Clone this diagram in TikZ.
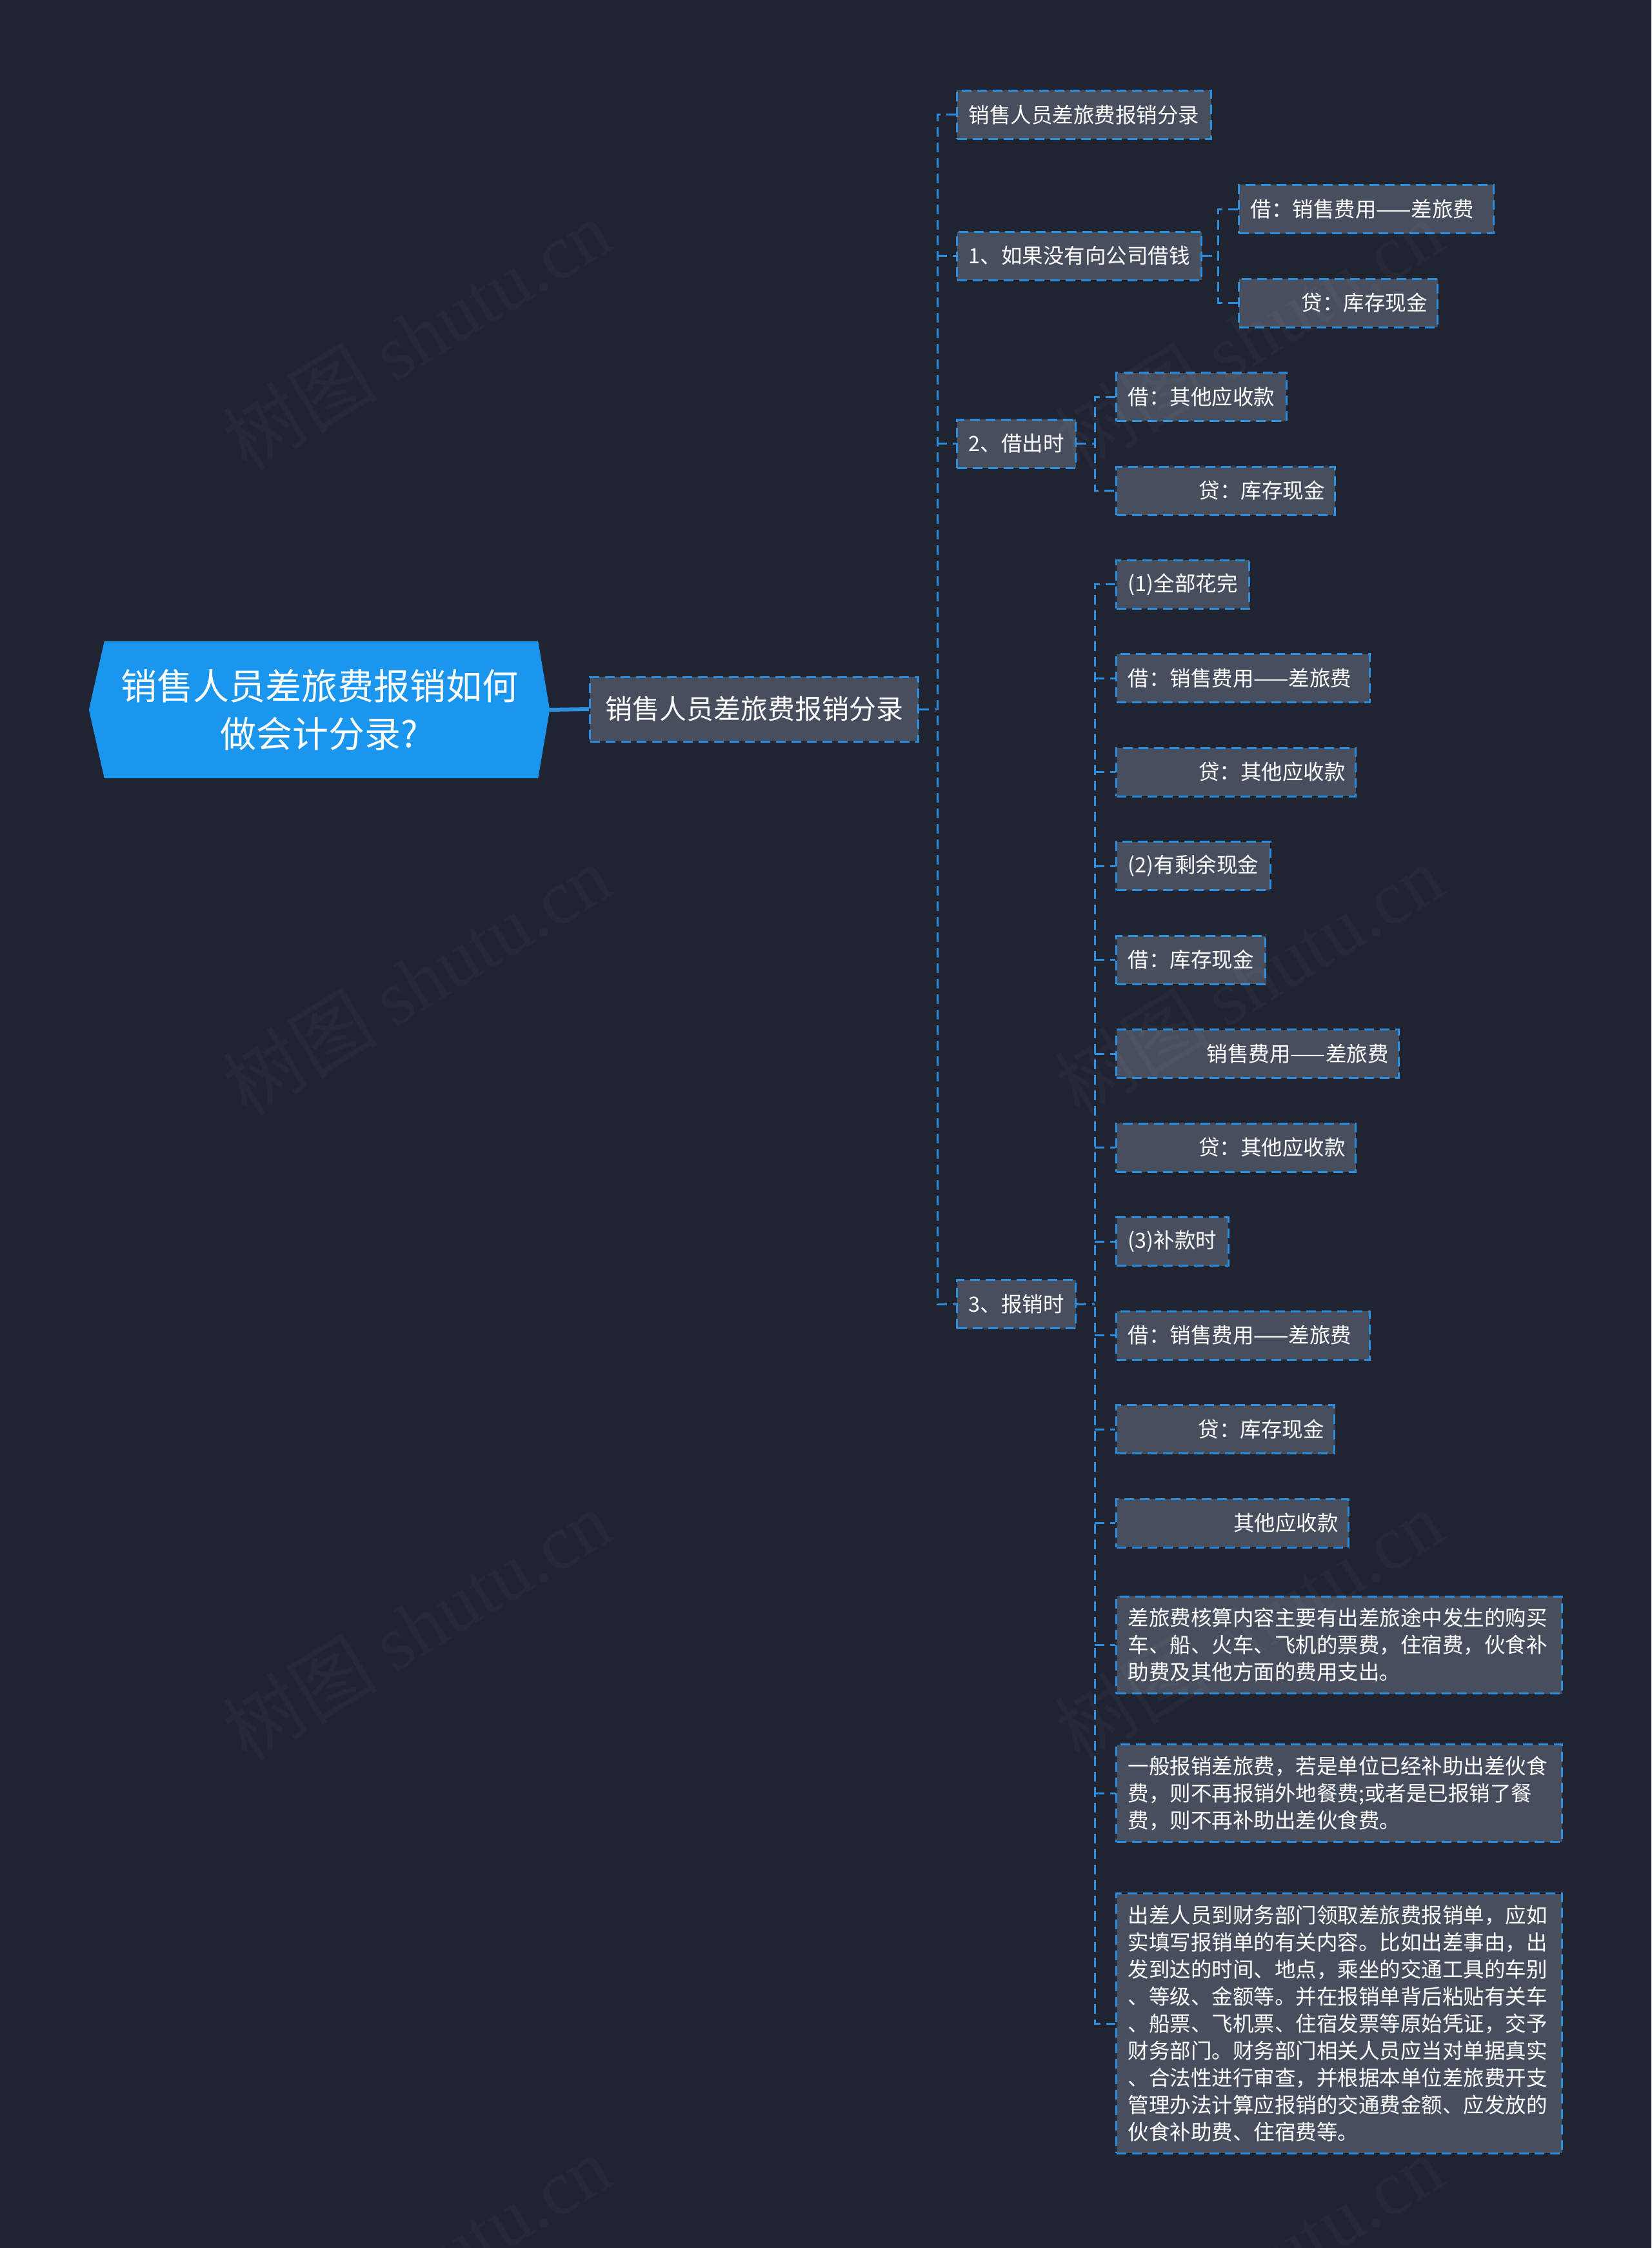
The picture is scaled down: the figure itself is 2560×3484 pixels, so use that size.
\documentclass[tikz,border=0pt]{standalone}
\usepackage{fontspec}
\setmainfont{Noto Sans CJK SC}
\newfontfamily\wmfont{Liberation Serif}
\usetikzlibrary{backgrounds,calc}
\definecolor{NightBg}{HTML}{202430}
\definecolor{SlateBox}{HTML}{474E5E}
\definecolor{MapBlue}{HTML}{2A8FE0}
\definecolor{RootBlue}{HTML}{1A96EF}

\tikzset{
  box/.style={draw=MapBlue,fill=SlateBox,line width=3pt,dash pattern=on 15pt off 9pt,
    text=white,inner xsep=18pt,inner ysep=0pt,minimum height=75pt,anchor=west,
    font=\fontsize{32.5}{42}\selectfont},
  padbox/.style={box,text width=#1,align=right,inner xsep=16pt},
  widebox/.style={box,text width=#1,align=left},
  parabox/.style={box,text width=655pt,align=left,inner ysep=18pt},
  link/.style={MapBlue,line width=3pt,dash pattern=on 15pt off 9pt},
  wmark/.style={text=white,opacity=0.032,font=\fontsize{120}{120}\selectfont,rotate=31.4}
}

\begin{document}
\begin{tikzpicture}[x=1pt,y=-1pt]
  \useasboundingbox (0,0) rectangle (2560,3484);
  % root and first branch
  \node[text=white,align=center,minimum width=714pt,minimum height=212pt,
    font=\fontsize{56}{74}\selectfont] (root) at (495,1100) {销售人员差旅费报销如何\\做会计分录?};
  \node[box,inner xsep=23.5pt,minimum height=100pt,font=\fontsize{42}{50}\selectfont]
    (l2) at (913,1099) {销售人员差旅费报销分录};
  \begin{pgfonlayer}{background}
    \fill[NightBg] (0,0) rectangle (2560,3484);
    \fill[RootBlue] (root.west) -- ([xshift=24pt]root.north west) -- ([xshift=-18pt]root.north east)
      -- (root.east) -- ([xshift=-18pt]root.south east) -- ([xshift=24pt]root.south west) -- cycle;
  \end{pgfonlayer}
  \draw[MapBlue,line width=6pt] (root.east) -- (l2.west);

  % level 3
  \node[box] (a1) at (1482,178) {销售人员差旅费报销分录};
  \node[box] (a2) at (1482,396.5) {1、如果没有向公司借钱};
  \node[box] (a3) at (1482,687.5) {2、借出时};
  \node[box] (a4) at (1482,2021) {3、报销时};

  % 1、如果没有向公司借钱
  \node[widebox=359pt] (b1) at (1919,324) {借：销售费用——差旅费};
  \node[padbox=276pt] (b2) at (1919,469.5) {贷：库存现金};

  % 2、借出时
  \node[box] (c1) at (1729,615) {借：其他应收款};
  \node[padbox=307pt] (c2) at (1729,760.5) {贷：库存现金};

  % 3、报销时
  \node[box] (m1) at (1729,905.5) {(1)全部花完};
  \node[widebox=357pt] (m2) at (1729,1051) {借：销售费用——差旅费};
  \node[padbox=339pt] (m3) at (1729,1196.5) {贷：其他应收款};
  \node[box] (m4) at (1729,1342) {(2)有剩余现金};
  \node[box] (m5) at (1729,1487.5) {借：库存现金};
  \node[padbox=406pt] (m6) at (1729,1633) {销售费用——差旅费};
  \node[padbox=339pt] (m7) at (1729,1778.5) {贷：其他应收款};
  \node[box] (m8) at (1729,1924) {(3)补款时};
  \node[widebox=357pt] (m9) at (1729,2069.5) {借：销售费用——差旅费};
  \node[padbox=306pt] (m10) at (1729,2215) {贷：库存现金};
  \node[padbox=328pt] (m11) at (1729,2360.5) {其他应收款};
  \node[parabox] (p1) at (1729,2549.5) {差旅费核算内容主要有出差旅途中发生的购买\\车、船、火车、飞机的票费，住宿费，伙食补\\助费及其他方面的费用支出。};
  \node[parabox] (p2) at (1729,2779) {一般报销差旅费，若是单位已经补助出差伙食\\费，则不再报销外地餐费;或者是已报销了餐\\费，则不再补助出差伙食费。};
  \node[parabox] (p3) at (1729,3136) {出差人员到财务部门领取差旅费报销单，应如\\实填写报销单的有关内容。比如出差事由，出\\发到达的时间、地点，乘坐的交通工具的车别\\、等级、金额等。并在报销单背后粘贴有关车\\、船票、飞机票、住宿发票等原始凭证，交予\\财务部门。财务部门相关人员应当对单据真实\\、合法性进行审查，并根据本单位差旅费开支\\管理办法计算应报销的交通费金额、应发放的\\伙食补助费、住宿费等。};

  % connectors
  \coordinate (busL2) at (1453,1099);
  \coordinate (busA2) at (1888,396.5);
  \coordinate (busA3) at (1697,687.5);
  \coordinate (busA4) at (1697,2021);
  \draw[link] (l2.east) -- (l2.east -| busL2);
  \draw[link] (a1.west) -| (busL2) |- (a4.west);
  \foreach \n in {a2,a3} \draw[link] (busL2 |- \n.west) -- (\n.west);
  \draw[link] (a2.east) -- (a2.east -| busA2);
  \draw[link] (b1.west) -| (busA2) |- (b2.west);
  \draw[link] (a3.east) -- (a3.east -| busA3);
  \draw[link] (c1.west) -| (busA3) |- (c2.west);
  \draw[link] (a4.east) -- (a4.east -| busA4);
  \draw[link] (m1.west) -| (busA4) |- (p3.west);
  \foreach \n in {m2,m3,m4,m5,m6,m7,m8,m9,m10,m11,p1,p2} \draw[link] (busA4 |- \n.west) -- (\n.west);

  % watermark
  \foreach \y [count=\k] in {519,1519,2519,3519} {
    \node[wmark] (wl\k) at (646,\y) {树图 {\wmfont shutu.cn}};
    \node[wmark] (wr\k) at (1936,\y) {树图 {\wmfont shutu.cn}};
  }
\end{tikzpicture}
\end{document}
